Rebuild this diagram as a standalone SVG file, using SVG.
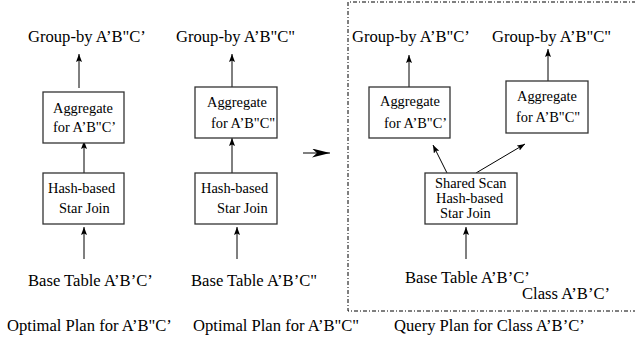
<svg xmlns="http://www.w3.org/2000/svg" width="635" height="343" viewBox="0 0 635 343">
  <style>
    .lbl { font-family: "Liberation Serif", "Times New Roman", serif; font-size: 16.6px; fill: #000; }
    .box-t { font-family: "Liberation Serif", "Times New Roman", serif; font-size: 14.4px; fill: #000; }
    .box { fill: #fff; stroke: #333; stroke-width: 1.3; }
    .edge { fill: none; stroke: #000; stroke-width: 1; marker-end: url(#head); }
    .frame { fill: none; stroke: #000; stroke-width: 1; stroke-dasharray: 4 2 1 2; }
  </style>
  <defs>
    <marker id="head" markerUnits="userSpaceOnUse" markerWidth="9" markerHeight="6" refX="8" refY="3" orient="auto">
      <path d="M0,0 L8,3 L0,6 L1.5,3 z" fill="#000"/>
    </marker>
    <marker id="dart" markerUnits="userSpaceOnUse" markerWidth="19" markerHeight="10" refX="18" refY="4.5" orient="auto">
      <path d="M0,0 L18,4.5 L0,9 L5,4.5 z" fill="#000"/>
    </marker>
  </defs>

  <!-- class boundary (dash-dot, open on the right) -->
  <path class="frame" d="M636,2 H348 V311 H636"/>

  <!-- connectors -->
  <g id="connectors">
    <line class="edge" x1="79" y1="88" x2="79" y2="54"/>
    <line class="edge" x1="84" y1="173" x2="84" y2="141"/>
    <line class="edge" x1="84" y1="259" x2="84" y2="227"/>

    <line class="edge" x1="232" y1="87" x2="232" y2="54"/>
    <line class="edge" x1="232" y1="173" x2="232" y2="138"/>
    <line class="edge" x1="237" y1="259" x2="237" y2="227"/>

    <line x1="303" y1="153" x2="330" y2="153" stroke="#000" stroke-width="1" marker-end="url(#dart)"/>

    <line class="edge" x1="409" y1="87" x2="409" y2="55"/>
    <line class="edge" x1="548" y1="81" x2="548" y2="49"/>
    <line class="edge" x1="447" y1="173" x2="433" y2="145"/>
    <line class="edge" x1="476" y1="173" x2="525" y2="144"/>
    <line class="edge" x1="466" y1="259" x2="466" y2="227"/>
  </g>

  <!-- optimal plan for A'B"C' -->
  <g id="gb1"><text class="lbl" x="28" y="42">Group-by A&#8217;B&quot;C&#8217;</text></g>
  <g id="agg1">
    <rect class="box" x="43" y="92" width="81" height="51"/>
    <text class="box-t" x="53" y="113">Aggregate</text>
    <text class="box-t" x="53" y="132">for A&#8217;B&quot;C&#8217;</text>
  </g>
  <g id="join1">
    <rect class="box" x="43" y="173" width="81" height="51"/>
    <text class="box-t" x="48" y="193">Hash-based</text>
    <text class="box-t" x="59" y="213">Star Join</text>
  </g>
  <g id="base1"><text class="lbl" x="28" y="286">Base Table A&#8217;B&#8217;C&#8217;</text></g>
  <g id="cap1"><text class="lbl" x="7" y="331">Optimal Plan for A&#8217;B&quot;C&#8217;</text></g>

  <!-- optimal plan for A'B"C" -->
  <g id="gb2"><text class="lbl" x="176" y="42">Group-by A&#8217;B&quot;C&quot;</text></g>
  <g id="agg2">
    <rect class="box" x="195" y="87" width="82" height="51"/>
    <text class="box-t" x="207" y="107">Aggregate</text>
    <text class="box-t" x="211" y="128">for A&#8217;B&quot;C&quot;</text>
  </g>
  <g id="join2">
    <rect class="box" x="195" y="173" width="82" height="51"/>
    <text class="box-t" x="201" y="193">Hash-based</text>
    <text class="box-t" x="217" y="213">Star Join</text>
  </g>
  <g id="base2"><text class="lbl" x="191" y="286">Base Table A&#8217;B&#8217;C&quot;</text></g>
  <g id="cap2"><text class="lbl" x="193" y="331">Optimal Plan for A&#8217;B&quot;C&quot;</text></g>

  <!-- shared query plan for class A'B'C' -->
  <g id="gb3"><text class="lbl" x="352" y="42">Group-by A&#8217;B&quot;C&#8217;</text></g>
  <g id="agg3">
    <rect class="box" x="369" y="87" width="81" height="51"/>
    <text class="box-t" x="380" y="106">Aggregate</text>
    <text class="box-t" x="384" y="128">for A&#8217;B&quot;C&#8217;</text>
  </g>
  <g id="gb4"><text class="lbl" x="492" y="42">Group-by A&#8217;B&quot;C&quot;</text></g>
  <g id="agg4">
    <rect class="box" x="506" y="81" width="82" height="52"/>
    <text class="box-t" x="517" y="101">Aggregate</text>
    <text class="box-t" x="516" y="122">for A&#8217;B&quot;C&quot;</text>
  </g>
  <g id="join3">
    <rect class="box" x="425" y="173" width="92" height="51"/>
    <text class="box-t" x="435" y="188">Shared Scan</text>
    <text class="box-t" x="436" y="203">Hash-based</text>
    <text class="box-t" x="440" y="218">Star Join</text>
  </g>
  <g id="base3"><text class="lbl" x="405" y="283">Base Table A&#8217;B&#8217;C&#8217;</text></g>
  <g id="cls"><text class="lbl" x="522" y="299">Class A&#8217;B&#8217;C&#8217;</text></g>
  <g id="cap3"><text class="lbl" x="394" y="331">Query Plan for Class A&#8217;B&#8217;C&#8217;</text></g>
</svg>
